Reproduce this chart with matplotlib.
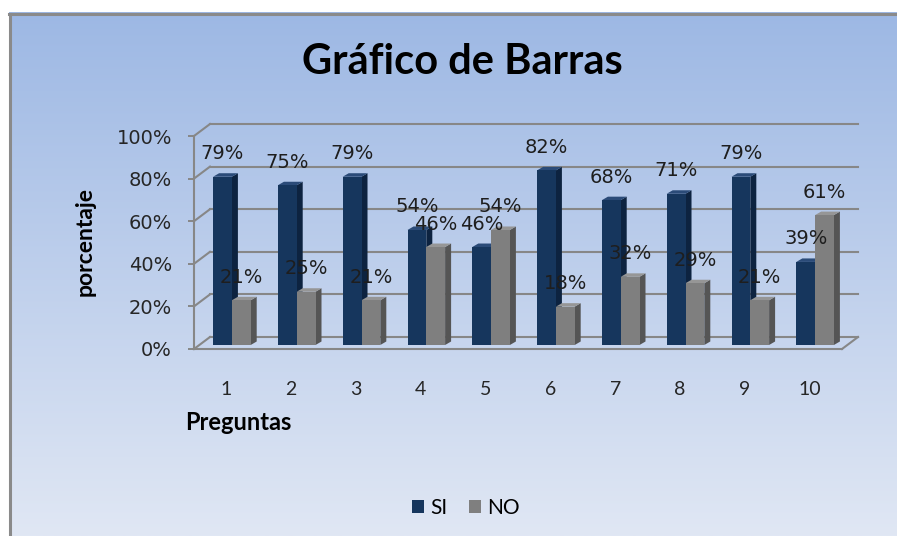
import numpy as np
import matplotlib.pyplot as plt
from matplotlib.patches import Polygon

## data
preguntas = ["1", "2", "3", "4", "5", "6", "7", "8", "9", "10"]
si = [79, 75, 79, 54, 46, 82, 68, 71, 79, 39]
no = [21, 25, 21, 46, 54, 18, 32, 29, 21, 61]
y_ticks = [0, 20, 40, 60, 80, 100]
y_labels = ["0%", "20%", "40%", "60%", "80%", "100%"]


if __name__ == "__main__":

	W, H = 897, 536
	narrow = "Lato"
	fig = plt.figure(
		figsize=(W / 100, H / 100),
		dpi=100)

	## background gradient + border
	bg = fig.add_axes([0, 0, 1, 1])
	bg.set_xlim(0, W)
	bg.set_ylim(H, 0)
	bg.axis("off")
	c_top = np.array([157, 184, 228]) / 255
	c_bot = np.array([224, 231, 244]) / 255
	t = np.linspace(0, 1, 256)[:, None]
	grad = c_top + (c_bot - c_top) * t
	bg.imshow(
		grad[:, None, :],
		extent=(9, W, H, 12),
		aspect="auto")
	bg.plot([10, 10], [H, 13.5], color="#8a8a8a", lw=2.2)
	bg.plot([8.5, W], [13.5, 13.5], color="#8a8a8a", lw=2.2)

	## plot area (front plane of the 3d box)
	ax = fig.add_axes([194 / W, (H - 349) / H, 648 / W, 213 / H])
	ax.set_xlim(0.5, 10.5)
	ax.set_ylim(0, 100)
	ax.patch.set_alpha(0)
	sx = 10 / 648   # data units per pixel
	sy = 100 / 213
	wx, wy = 16 * sx, 12 * sy   # back wall offset
	by = 4 * sy                 # bar base above front floor
	dx, dy = 6 * sx, 3.5 * sy   # bar depth
	grid_c = "#878787"

	## back wall gridlines and left wall diagonals
	for v in y_ticks:
		ax.plot(
			[0.5 + wx, 10.5 + wx],
			[v + wy, v + wy],
			color=grid_c,
			lw=1.5,
			clip_on=False,
			zorder=1)
		ax.plot(
			[0.5, 0.5 + wx],
			[v, v + wy],
			color=grid_c,
			lw=1.5,
			clip_on=False,
			zorder=1)
	ax.plot(
		[10.5, 10.5 + wx],
		[0, wy],
		color=grid_c,
		lw=1.5,
		clip_on=False,
		zorder=1)

	## bars
	pos = np.arange(1, len(preguntas) + 1)
	bw = 0.29
	series = [
		(si, pos - 0.205, "#16365d", "#0d2340", "#2b4b78", "SI"),
		(no, pos + 0.085, "#7f7f7f", "#555555", "#969696", "NO"),
		]
	handles = []
	for i in range(len(pos)):
		for vals, left, c_front, c_side, c_top_face, name in series:
			x0 = left[i]
			v = vals[i]
			ax.add_patch(Polygon(
				[(x0 + bw, by), (x0 + bw + dx, by + dy), (x0 + bw + dx, by + v + dy), (x0 + bw, by + v)],
				closed=True,
				facecolor=c_side,
				edgecolor="none",
				zorder=3))
			ax.add_patch(Polygon(
				[(x0, by + v), (x0 + dx, by + v + dy), (x0 + bw + dx, by + v + dy), (x0 + bw, by + v)],
				closed=True,
				facecolor=c_top_face,
				edgecolor="none",
				zorder=3))
	for vals, left, c_front, c_side, c_top_face, name in series:
		b = ax.bar(
			left,
			vals,
			width=bw,
			bottom=by,
			align="edge",
			color=c_front,
			label=name,
			zorder=4)
		handles.append(b)
		for x0, v in zip(left, vals):
			ax.annotate(
				"{}%".format(v),
				(x0 + bw / 2, v + by),
				xytext=(0, 23 * 0.72),
				textcoords="offset points",
				ha="center",
				va="center",
				fontsize=14,
				color="#1e1e1e",
				annotation_clip=False,
				zorder=10)

	## axes formatting
	for s in ["top", "right"]:
		ax.spines[s].set_visible(False)
	for s in ["left", "bottom"]:
		ax.spines[s].set_color(grid_c)
		ax.spines[s].set_linewidth(1.5)
	ax.set_yticks(y_ticks, y_labels)
	ax.tick_params(
		axis="y",
		length=4.3,
		width=1.4,
		color=grid_c,
		pad=11.5,
		labelsize=14,
		labelcolor="#262626")
	ax.set_xticks(pos, preguntas)
	ax.tick_params(
		axis="x",
		length=0,
		pad=23,
		labelsize=14,
		labelcolor="#262626")
	for lab in ax.get_xticklabels():
		lab.set_family(narrow)

	## texts
	fig.text(
		462 / W, 1 - 62 / H,
		"Gráfico de Barras",
		ha="center",
		va="center",
		fontsize=30,
		fontweight="bold",
		family=narrow)
	fig.text(
		85 / W, 1 - 241 / H,
		"porcentaje",
		rotation=90,
		ha="center",
		va="center",
		fontsize=16.5,
		fontweight="bold",
		family=narrow)
	fig.text(
		185 / W, 1 - 423 / H,
		"Preguntas",
		ha="left",
		va="center",
		fontsize=17,
		fontweight="bold",
		family=narrow)

	## legend
	fig.legend(
		handles,
		["SI", "NO"],
		loc="center",
		bbox_to_anchor=(466 / W, 1 - 508 / H),
		ncol=2,
		frameon=False,
		prop={"family": narrow, "size": 15},
		handlelength=0.6,
		handleheight=0.6,
		handletextpad=0.3,
		columnspacing=1.0)

	fig.savefig("out.png", dpi=100)
	plt.close()
